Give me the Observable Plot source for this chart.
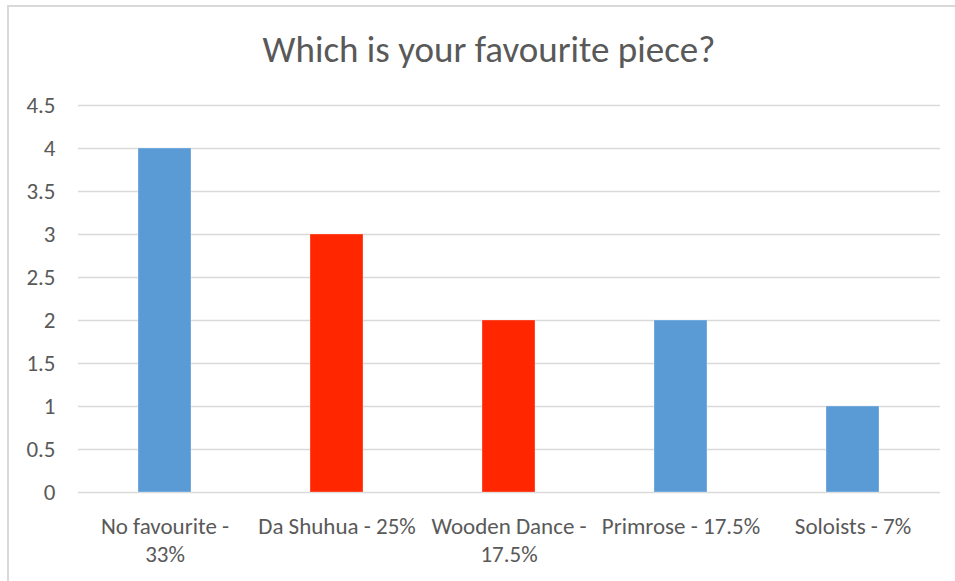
<!DOCTYPE html>
<html>
<head>
<meta charset="utf-8">
<script src="https://cdn.jsdelivr.net/npm/d3@7"></script>
<script src="https://cdn.jsdelivr.net/npm/@observablehq/plot@0.6"></script>
<style>
  html, body { margin: 0; padding: 0; background: #fff; }
  #wrap { position: relative; width: 955px; height: 581px; overflow: hidden; }
  #frame { position: absolute; left: 7px; top: 5px; width: 960px; height: 590px;
           border-top: 2px solid #d9d9d9; border-left: 2px solid #d9d9d9; box-sizing: border-box; pointer-events: none; }
  #title { position: absolute; left: 0; width: 978px; top: 27px; text-align: center; line-height: normal;
           font-family: Carlito, Lato, "Open Sans", sans-serif; font-size: 37px; color: #595959; }
  #chart { position: absolute; left: 0; top: 0; }
</style>
</head>
<body>
<div id="wrap">
  <div id="chart"></div>
  <div id="frame"></div>
  <div id="title">Which is your favourite piece?</div>
</div>
<script>
const categories = ["No favourite - 33%", "Da Shuhua - 25%", "Wooden Dance - 17.5%", "Primrose - 17.5%", "Soloists - 7%"];
const labelLines = [["No favourite -", "33%"], ["Da Shuhua - 25%"], ["Wooden Dance -", "17.5%"], ["Primrose - 17.5%"], ["Soloists - 7%"]];
const values = [4, 3, 2, 2, 1];
const barColors = ["#5B9BD5", "#FF2600", "#FF2600", "#5B9BD5", "#5B9BD5"];
const yTicks = [0, 0.5, 1, 1.5, 2, 2.5, 3, 3.5, 4, 4.5];

const data = categories.map((c, i) => ({category: c, value: values[i], color: barColors[i], label: labelLines[i].join("\n")}));

const font = "Carlito, Lato, 'Open Sans', sans-serif";

const chart = Plot.plot({
  width: 955,
  height: 581,
  marginLeft: 78,
  marginRight: 15,
  marginTop: 105,
  marginBottom: 89,
  style: {fontFamily: font, fontSize: "23px", color: "#595959", background: "transparent"},
  x: {domain: categories, paddingInner: 0.69, paddingOuter: 0.345, label: null, axis: null},
  y: {domain: [0, 4.5], label: null, axis: null},
  marks: [
    Plot.ruleY(yTicks, {stroke: "#d9d9d9", strokeWidth: 1.5}),
    Plot.barY(data, {x: "category", y: "value", fill: "color", stroke: "#ffffff", strokeOpacity: 0.3}),
    Plot.text(yTicks, {y: d => d, text: d => String(d), frameAnchor: "left", textAnchor: "end", dx: -23, fill: "#595959", fontSize: 23}),
    Plot.text(data, {x: "category", text: "label", frameAnchor: "bottom", lineAnchor: "top", dy: 22, lineHeight: 1.2, fill: "#595959", fontSize: 23})
  ]
});
document.getElementById("chart").appendChild(chart);
</script>
</body>
</html>
